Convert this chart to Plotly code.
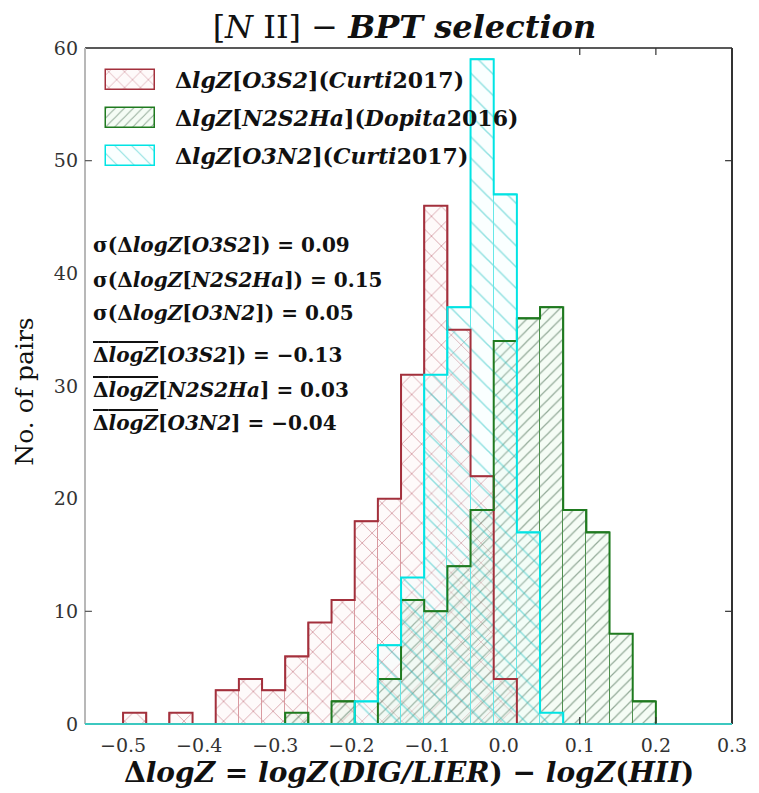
import numpy as np
import plotly.graph_objects as go

# ---------------- data ----------------
bin_lo, bin_hi, n_bins = -0.5, 0.2, 23
red_counts   = [1, 0, 1, 0, 3, 4, 3, 6, 9, 11, 18, 20, 31, 46, 35, 22, 4, 0, 0, 0, 0, 0, 0]
green_counts = [0, 0, 0, 0, 0, 0, 0, 1, 0, 2, 0, 4, 11, 10, 14, 19, 34, 36, 37, 19, 17, 8, 2]
cyan_counts  = [0, 0, 0, 0, 0, 0, 0, 0, 0, 0, 2, 7, 13, 31, 37, 59, 47, 17, 1, 0, 0, 0, 0]
series_names = [
    "<b>Δ<i>lgZ</i>[<i>O3S2</i>](<i>Curti</i>2017)</b>",
    "<b>Δ<i>lgZ</i>[<i>N2S2Ha</i>](<i>Dopita</i>2016)</b>",
    "<b>Δ<i>lgZ</i>[<i>O3N2</i>](<i>Curti</i>2017)</b>",
]
stat_lines = [
    "<b>σ(Δ<i>logZ</i>[<i>O3S2</i>]) = 0.09</b>",
    "<b>σ(Δ<i>logZ</i>[<i>N2S2Ha</i>]) = 0.15</b>",
    "<b>σ(Δ<i>logZ</i>[<i>O3N2</i>]) = 0.05</b>",
    "<b><span style=\"text-decoration:overline\">Δ<i>logZ</i></span>[<i>O3S2</i>]) = −0.13</b>",
    "<b><span style=\"text-decoration:overline\">Δ<i>logZ</i></span>[<i>N2S2Ha</i>] = 0.03</b>",
    "<b><span style=\"text-decoration:overline\">Δ<i>logZ</i></span>[<i>O3N2</i>] = −0.04</b>",
]
x_ticks = [-0.5, -0.4, -0.3, -0.2, -0.1, 0.0, 0.1, 0.2, 0.3]
y_ticks = [0, 10, 20, 30, 40, 50, 60]

# ---------------- geometry ----------------
W, H = 759, 793
L, R, T, B = 85, 739, 48, 724          # plot area in pixels
PW, PH = R - L, B - T
def px(xp): return (xp - L) / PW
def py(yp): return (B - yp) / PH

edges = np.linspace(bin_lo, bin_hi, n_bins + 1)
centers = (edges[:-1] + edges[1:]) / 2
bw = edges[1] - edges[0]

FONT = "DejaVu Serif"
styles = [
    dict(counts=red_counts, shape="x", fg="#ad4252", fill="rgba(250,228,228,0.18)",
         edge="#d99aa0", step="#a3303c", size=14, sol=0.12),
    dict(counts=green_counts, shape="/", fg="#30583a", fill="rgba(215,242,215,0.25)",
         edge="#4f8f4f", step="#1f7a1f", size=8, sol=0.15),
    dict(counts=cyan_counts, shape="\\", fg="#2ac4c4", fill="rgba(225,255,255,0.18)",
         edge="#66e8e8", step="#00e4e4", size=15, sol=0.10),
]

fig = go.Figure()
for s in styles:
    fig.add_trace(go.Bar(
        x=centers, y=s["counts"], width=bw,
        marker=dict(color=s["fill"],
                    pattern=dict(shape=s["shape"], fgcolor=s["fg"], bgcolor=s["fill"],
                                 size=s["size"], solidity=s["sol"]),
                    line=dict(color=s["edge"], width=1)),
        showlegend=False, hoverinfo="skip"))
for s in styles:
    xs = [edges[0]] + list(edges)
    ys = [0] + list(s["counts"]) + [0]
    fig.add_trace(go.Scatter(x=xs, y=ys, mode="lines", line=dict(color=s["step"], width=2, shape="hv"),
                             showlegend=False, hoverinfo="skip"))

# legend swatches on a pixel overlay axis
leg_rows = [80, 118, 156]
for s, yr in zip(styles, leg_rows):
    fig.add_trace(go.Bar(
        x=[131], y=[20], base=[(B - yr) - 10], width=[50], xaxis="x2", yaxis="y2",
        marker=dict(color=s["fill"],
                    pattern=dict(shape=s["shape"], fgcolor=s["fg"], bgcolor=s["fill"],
                                 size=s["size"] * 0.8, solidity=s["sol"]),
                    line=dict(color=s["step"], width=1.5)),
        showlegend=False, hoverinfo="skip"))

ann = []
for name, yr in zip(series_names, leg_rows):
    ann.append(dict(text=name, xref="paper", yref="paper", x=px(174), y=py(yr),
                    xanchor="left", yanchor="middle", showarrow=False,
                    font=dict(family=FONT, size=22, color="#111")))
stat_rows = [245, 280, 313, 355, 390, 423]
for t, yr in zip(stat_lines, stat_rows):
    ann.append(dict(text=t, xref="paper", yref="paper", x=px(91), y=py(yr),
                    xanchor="left", yanchor="middle", showarrow=False,
                    font=dict(family=FONT, size=20, color="#111")))
# axis titles
ann.append(dict(text="<b>Δ<i>logZ</i> = <i>logZ</i>(<i>DIG/LIER</i>) − <i>logZ</i>(<i>HII</i>)</b>",
                xref="paper", yref="paper", x=0.5, y=py(772), xanchor="center", yanchor="middle",
                showarrow=False, font=dict(family=FONT, size=28, color="#111")))
ann.append(dict(text="No. of pairs", xref="paper", yref="paper", x=px(24), y=py(392),
                xanchor="center", yanchor="middle", textangle=-90, showarrow=False,
                font=dict(family=FONT, size=25, color="#111")))

shapes = []
# spines
shapes.append(dict(type="line", xref="paper", yref="paper", x0=0, x1=1, y0=1, y1=1,
                   line=dict(color="#222", width=1.5)))
shapes.append(dict(type="line", xref="paper", yref="paper", x0=1, x1=1, y0=0, y1=1,
                   line=dict(color="#333", width=2)))
shapes.append(dict(type="line", xref="paper", yref="paper", x0=0, x1=0, y0=0, y1=1,
                   line=dict(color="#b8b8b8", width=2)))
shapes.append(dict(type="line", xref="paper", yref="paper", x0=0, x1=1, y0=0, y1=0,
                   line=dict(color="#3cc8c0", width=2)))
# visible tick marks
for xv in [0.1, 0.2]:
    shapes.append(dict(type="line", xref="x", yref="paper", x0=xv, x1=xv, y0=1, y1=1 - 7 / PH,
                       line=dict(color="#333", width=1.2)))
    shapes.append(dict(type="line", xref="x", yref="paper", x0=xv, x1=xv, y0=0, y1=7 / PH,
                       line=dict(color="#333", width=1.2)))
for yv in [10, 50]:
    shapes.append(dict(type="line", xref="paper", yref="y", x0=1, x1=1 - 7 / PW, y0=yv, y1=yv,
                       line=dict(color="#333", width=1.2)))
    shapes.append(dict(type="line", xref="paper", yref="y", x0=0, x1=7 / PW, y0=yv, y1=yv,
                       line=dict(color="#555", width=1.2)))

fig.update_layout(
    width=W, height=H,
    margin=dict(l=L, r=W - R, t=T, b=H - B),
    paper_bgcolor="white", plot_bgcolor="white",
    barmode="overlay", bargap=0,
    title=dict(text="[<i>N</i> II] − <b><i>BPT selection</i></b>", x=(L + R) / 2 / W - 0.01, xanchor="center",
               y=1 - 27 / H, yanchor="middle", font=dict(family=FONT, size=32, color="#111")),
    xaxis=dict(range=[-0.55, 0.3], tickvals=x_ticks, tickformat=".1f", ticks="", showgrid=False,
               zeroline=False, showline=False, ticklabelstandoff=8,
               tickfont=dict(family=FONT, size=19, color="#333")),
    yaxis=dict(range=[0, 60], tickvals=y_ticks, ticks="", showgrid=False, zeroline=False,
               showline=False, ticklabelstandoff=6,
               tickfont=dict(family=FONT, size=19, color="#333")),
    xaxis2=dict(overlaying="x", range=[L, R], visible=False),
    yaxis2=dict(overlaying="y", range=[0, PH], visible=False),
    annotations=ann, shapes=shapes, showlegend=False,
)

fig.write_html("out.html")
